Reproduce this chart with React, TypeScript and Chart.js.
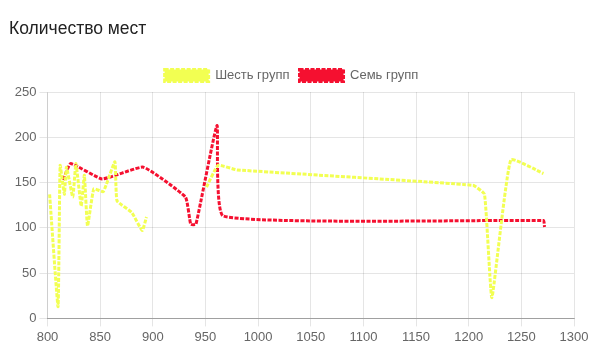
import React, { useEffect, useRef } from "react";
import { Chart, registerables } from "chart.js";

Chart.register(...registerables);

const TITLE = "Количество мест";
const SERIES_NAMES = ["Шесть групп", "Семь групп"];

const sixX = [802, 810, 812, 816, 818, 824, 827, 832, 835, 838, 844, 853, 864, 866, 880, 890, 894, 920, 951, 962, 980, 1204, 1215, 1222, 1240, 1271];
const sixY = [137, 13, 169, 137, 167, 134, 171, 124, 158, 102, 143, 140, 173, 130, 117, 97, 112, null, 145, 169, 164, 147, 137, 23, 175, 160];

const sevenX = [815, 822, 852, 891, 931, 936, 941, 961, 967, 1271, 1272];
const sevenY = [153, 171, 154, 167, 134, 104, 104, 213, 113, 108, 101];

const X_MIN = 800;
const X_MAX = 1300;
const X_STEP = 50;
const Y_MIN = 0;
const Y_MAX = 250;
const Y_STEP = 50;

const COLORS = ["rgb(242,255,82)", "rgb(245,16,48)"];

function toPoints(xs: number[], ys: (number | null)[]) {
  return xs.map((x, i) => ({ x, y: ys[i] }));
}

export default function App() {
  const ref = useRef<HTMLCanvasElement | null>(null);
  useEffect(() => {
    document.body.style.margin = "0";
    const FONT = "Arial, 'Liberation Sans', Helvetica, sans-serif";
    Chart.defaults.font.family = FONT;
    Chart.defaults.font.size = 13;
    Chart.defaults.color = "#666";
    const lineCommon = {
      borderWidth: 3,
      borderDash: [4, 1.5],
      pointRadius: 0,
      pointHoverRadius: 0,
      tension: 0.12,
      fill: false,
      spanGaps: false,
    };
    const chart = new Chart(ref.current!, {
      type: "line",
      data: {
        datasets: [
          {
            label: SERIES_NAMES[0],
            data: toPoints(sixX, sixY),
            borderColor: COLORS[0],
            backgroundColor: COLORS[0],
            ...lineCommon,
          },
          {
            label: SERIES_NAMES[1],
            data: toPoints(sevenX, sevenY),
            borderColor: COLORS[1],
            backgroundColor: COLORS[1],
            ...lineCommon,
          },
        ],
      },
      options: {
        animation: false,
        responsive: true,
        maintainAspectRatio: false,
        layout: { padding: { left: 9, right: 18, top: 8, bottom: -3 } },
        plugins: {
          title: {
            display: true,
            text: TITLE,
            align: "start",
            color: "#222",
            font: { size: 17.5, weight: "normal" },
            padding: { top: 11, bottom: 19 },
          },
          legend: {
            display: true,
            labels: {
              boxWidth: 44,
              boxHeight: 12,
              color: "#666",
              font: { size: 13 },
              padding: 10,
            },
          },
          tooltip: { enabled: false },
        },
        scales: {
          x: {
            type: "linear",
            min: X_MIN,
            max: X_MAX,
            ticks: { stepSize: X_STEP, color: "#666", font: { size: 13 }, callback: (v: any) => String(v) },
            grid: { color: "rgba(0,0,0,0.1)" },
            border: { color: "rgba(0,0,0,0.3)" },
          },
          y: {
            min: Y_MIN,
            max: Y_MAX,
            afterFit: (axis: any) => { axis.width = 38.5; },
            ticks: { stepSize: Y_STEP, color: "#666", font: { size: 13 }, callback: (v: any) => String(v) },
            grid: { color: "rgba(0,0,0,0.1)" },
            border: { color: "rgba(0,0,0,0.1)" },
          },
        },
      },
    });
    return () => chart.destroy();
  }, []);
  return (
    <div style={{ width: 592, height: 345, position: "relative" }}>
      <canvas ref={ref} />
    </div>
  );
}
